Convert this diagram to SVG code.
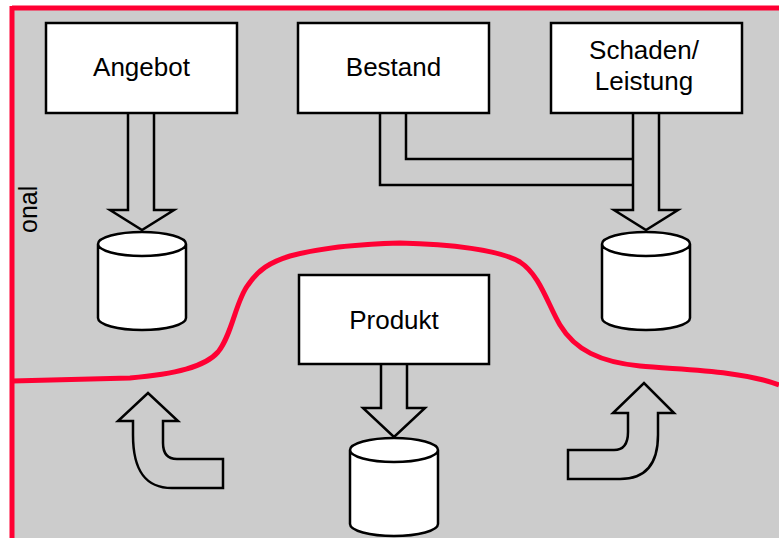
<svg xmlns="http://www.w3.org/2000/svg" width="779" height="538" viewBox="0 0 779 538">
<style>
.box{fill:#fff;stroke:#000;stroke-width:2.5}
.cyl{fill:#fff;stroke:#000;stroke-width:2.5}
.arr{fill:#ccc;stroke:#000;stroke-width:2.5;stroke-linejoin:miter}
.pipe{fill:none;stroke:#000;stroke-width:2.5}
.red{fill:none;stroke:#ff0033;stroke-width:5}
.t{font-family:"Liberation Sans",Arial,sans-serif;font-size:26px;fill:#000;text-anchor:middle}
</style>
<rect x="0" y="0" width="779" height="538" fill="#fff"/>
<rect x="12" y="8" width="767" height="530" fill="#cccccc"/>
<g id="boundary">
<path class="red" d="M12,8 L150,8 L779,8"/>
<path class="red" d="M12,6 L12,538" stroke-width="6"/>
<path class="red" d="M12,381 L130,378 C175,374 205,367 218,352 C232,335 236,300 248,285 C258,270 270,262 290,256 C320,248 360,244 400,243 C450,244 500,250 520,262 C540,275 548,305 560,325 C575,350 600,362 640,366 C680,370 740,370 779,385"/>
</g>
<text class="t" transform="translate(37,233) rotate(-90)" style="text-anchor:start;font-size:25px">onal</text>
<g id="connectors">
<path class="arr" d="M128,113 L128,210 L110,210 L142,230 L174,210 L154,210 L154,113"/>
<path class="arr" d="M633,113 L633,210 L614,210 L646,230 L678,210 L659,210 L659,113"/>
<path class="pipe" d="M406,113 L406,159 L633,159 M380,113 L380,185 L633,185"/>
<path class="arr" d="M381,364 L381,408 L363,408 L394,437 L425,408 L407,408 L407,364"/>
<path class="arr" d="M223,459 L177,459 Q163,459 163,443 L163,421 L178,421 L148,393 L118,421 L133,421 L133,435 C133,470 145,488 172,488 L223,488 Z"/>
<path class="arr" d="M568,450 L614,450 Q628,450 628,432 L628,413 L613,413 L644,383 L674,413 L658,413 L658,435 C658,465 645,479 620,479 L568,479 Z"/>
</g>
<g id="angebot">
<rect class="box" x="46" y="23" width="191" height="90"/>
<text class="t" x="141.5" y="76">Angebot</text>
</g>
<g id="bestand">
<rect class="box" x="298" y="23" width="191" height="90"/>
<text class="t" x="393.5" y="76">Bestand</text>
</g>
<g id="schaden">
<rect class="box" x="551" y="23" width="191" height="90"/>
<text class="t" x="644" y="59">Schaden/</text>
<text class="t" x="644" y="90">Leistung</text>
</g>
<g id="produkt">
<rect class="box" x="299" y="275" width="190" height="89"/>
<text class="t" x="394" y="329">Produkt</text>
</g>
<g id="db-angebot">
<path class="cyl" d="M98,244 L98,318 A44,12 0 0 0 186,318 L186,244 A44,12 0 0 0 98,244 Z M98,244 A44,12 0 0 0 186,244"/>
</g>
<g id="db-schaden">
<path class="cyl" d="M602,244 L602,318 A44,12 0 0 0 690,318 L690,244 A44,12 0 0 0 602,244 Z M602,244 A44,12 0 0 0 690,244"/>
</g>
<g id="db-produkt">
<path class="cyl" d="M350,450 L350,524 A44,12 0 0 0 438,524 L438,450 A44,12 0 0 0 350,450 Z M350,450 A44,12 0 0 0 438,450"/>
</g>
</svg>
